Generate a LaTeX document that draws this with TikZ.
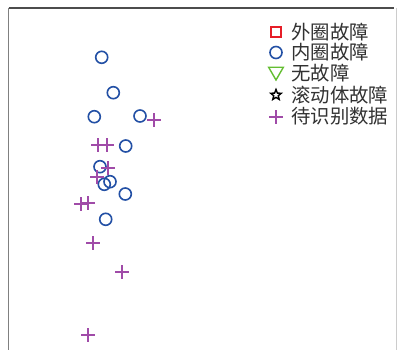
\documentclass[tikz,border=0pt]{standalone}
\usepackage{fontspec}
\newfontfamily\cjk{Noto Sans CJK SC}
\usetikzlibrary{shapes.geometric}
\definecolor{cblue}{RGB}{35,80,165}
\definecolor{cpurple}{RGB}{160,75,168}
\definecolor{cred}{RGB}{230,30,40}
\definecolor{cgreen}{RGB}{100,190,50}
\definecolor{ctext}{RGB}{50,50,50}
\tikzset{
  circ/.style={circle, draw=cblue, line width=1.6pt, minimum size=12pt, inner sep=0pt},
  plusarm/.style={draw=cpurple, line width=1.6pt},
  plusm/.style={rectangle, minimum size=13pt, inner sep=0pt,
    append after command={
      (\tikzlastnode.north) edge[plusarm] (\tikzlastnode.south)
      (\tikzlastnode.west) edge[plusarm] (\tikzlastnode.east)}},
  sqm/.style={rectangle, draw=cred, line width=1.4pt, minimum size=10pt, inner sep=0pt},
  trim/.style={regular polygon, regular polygon sides=3, shape border rotate=180, draw=cgreen, line width=1.4pt, minimum size=17pt, inner sep=0pt},
  starm/.style={star, star points=5, star point ratio=2.3, draw=black, line width=1.4pt, minimum size=11pt, inner sep=0pt},
  legtext/.style={anchor=west, inner sep=0pt, text=ctext, font=\cjk\fontsize{19.4}{21}\selectfont},
}
\begin{document}
\begin{tikzpicture}[x=1pt,y=-1pt]
\useasboundingbox (0,0) rectangle (397,350);
\fill[white] (0,0) rectangle (397,350);
% frame
\draw[black!50, line width=1.4pt] (8.5,350) -- (8.5,8);
\draw[black!70, line width=1.1pt] (8.5,8) -- (394,8);
\draw[black!20, line width=0.8pt] (396.3,8) -- (396.3,350);
% inner race fault samples
\node[circ] (c1) at (101.7,57.3) {};
\node[circ] (c2) at (113.3,92.7) {};
\node[circ] (c3) at (94.3,116.7) {};
\node[circ] (c4) at (140,116) {};
\node[circ] (c5) at (125.7,146) {};
\node[circ] (c6) at (100,166.7) {};
\node[circ] (c7) at (104.3,184.3) {};
\node[circ] (c8) at (110,181.7) {};
\node[circ] (c9) at (125.3,194) {};
\node[circ] (c10) at (105.7,219.3) {};
% data to identify
\node[plusm] (p1) at (154,120) {};
\node[plusm] (p2) at (98,145) {};
\node[plusm] (p3) at (107,145) {};
\node[plusm] (p4) at (108,168) {};
\node[plusm] (p5) at (97,177) {};
\node[plusm] (p6) at (81,204) {};
\node[plusm] (p7) at (88,203) {};
\node[plusm] (p8) at (93,243) {};
\node[plusm] (p9) at (122,272) {};
\node[plusm] (p10) at (88,335) {};
% legend
\node[sqm] (l1) at (276,32) {};
\node[circ] (l2) at (276,52.5) {};
\node[trim] (l3) at (276,71.5) {};
\node[starm] (l4) at (276,95) {};
\node[plusm] (l5) at (276,117) {};
\node[legtext] (t1) at (291,32) {外圈故障};
\node[legtext] (t2) at (291,52.5) {内圈故障};
\node[legtext] (t3) at (291,73.5) {无故障};
\node[legtext] (t4) at (291,95) {滚动体故障};
\node[legtext] (t5) at (291,116.5) {待识别数据};
\end{tikzpicture}
\end{document}
